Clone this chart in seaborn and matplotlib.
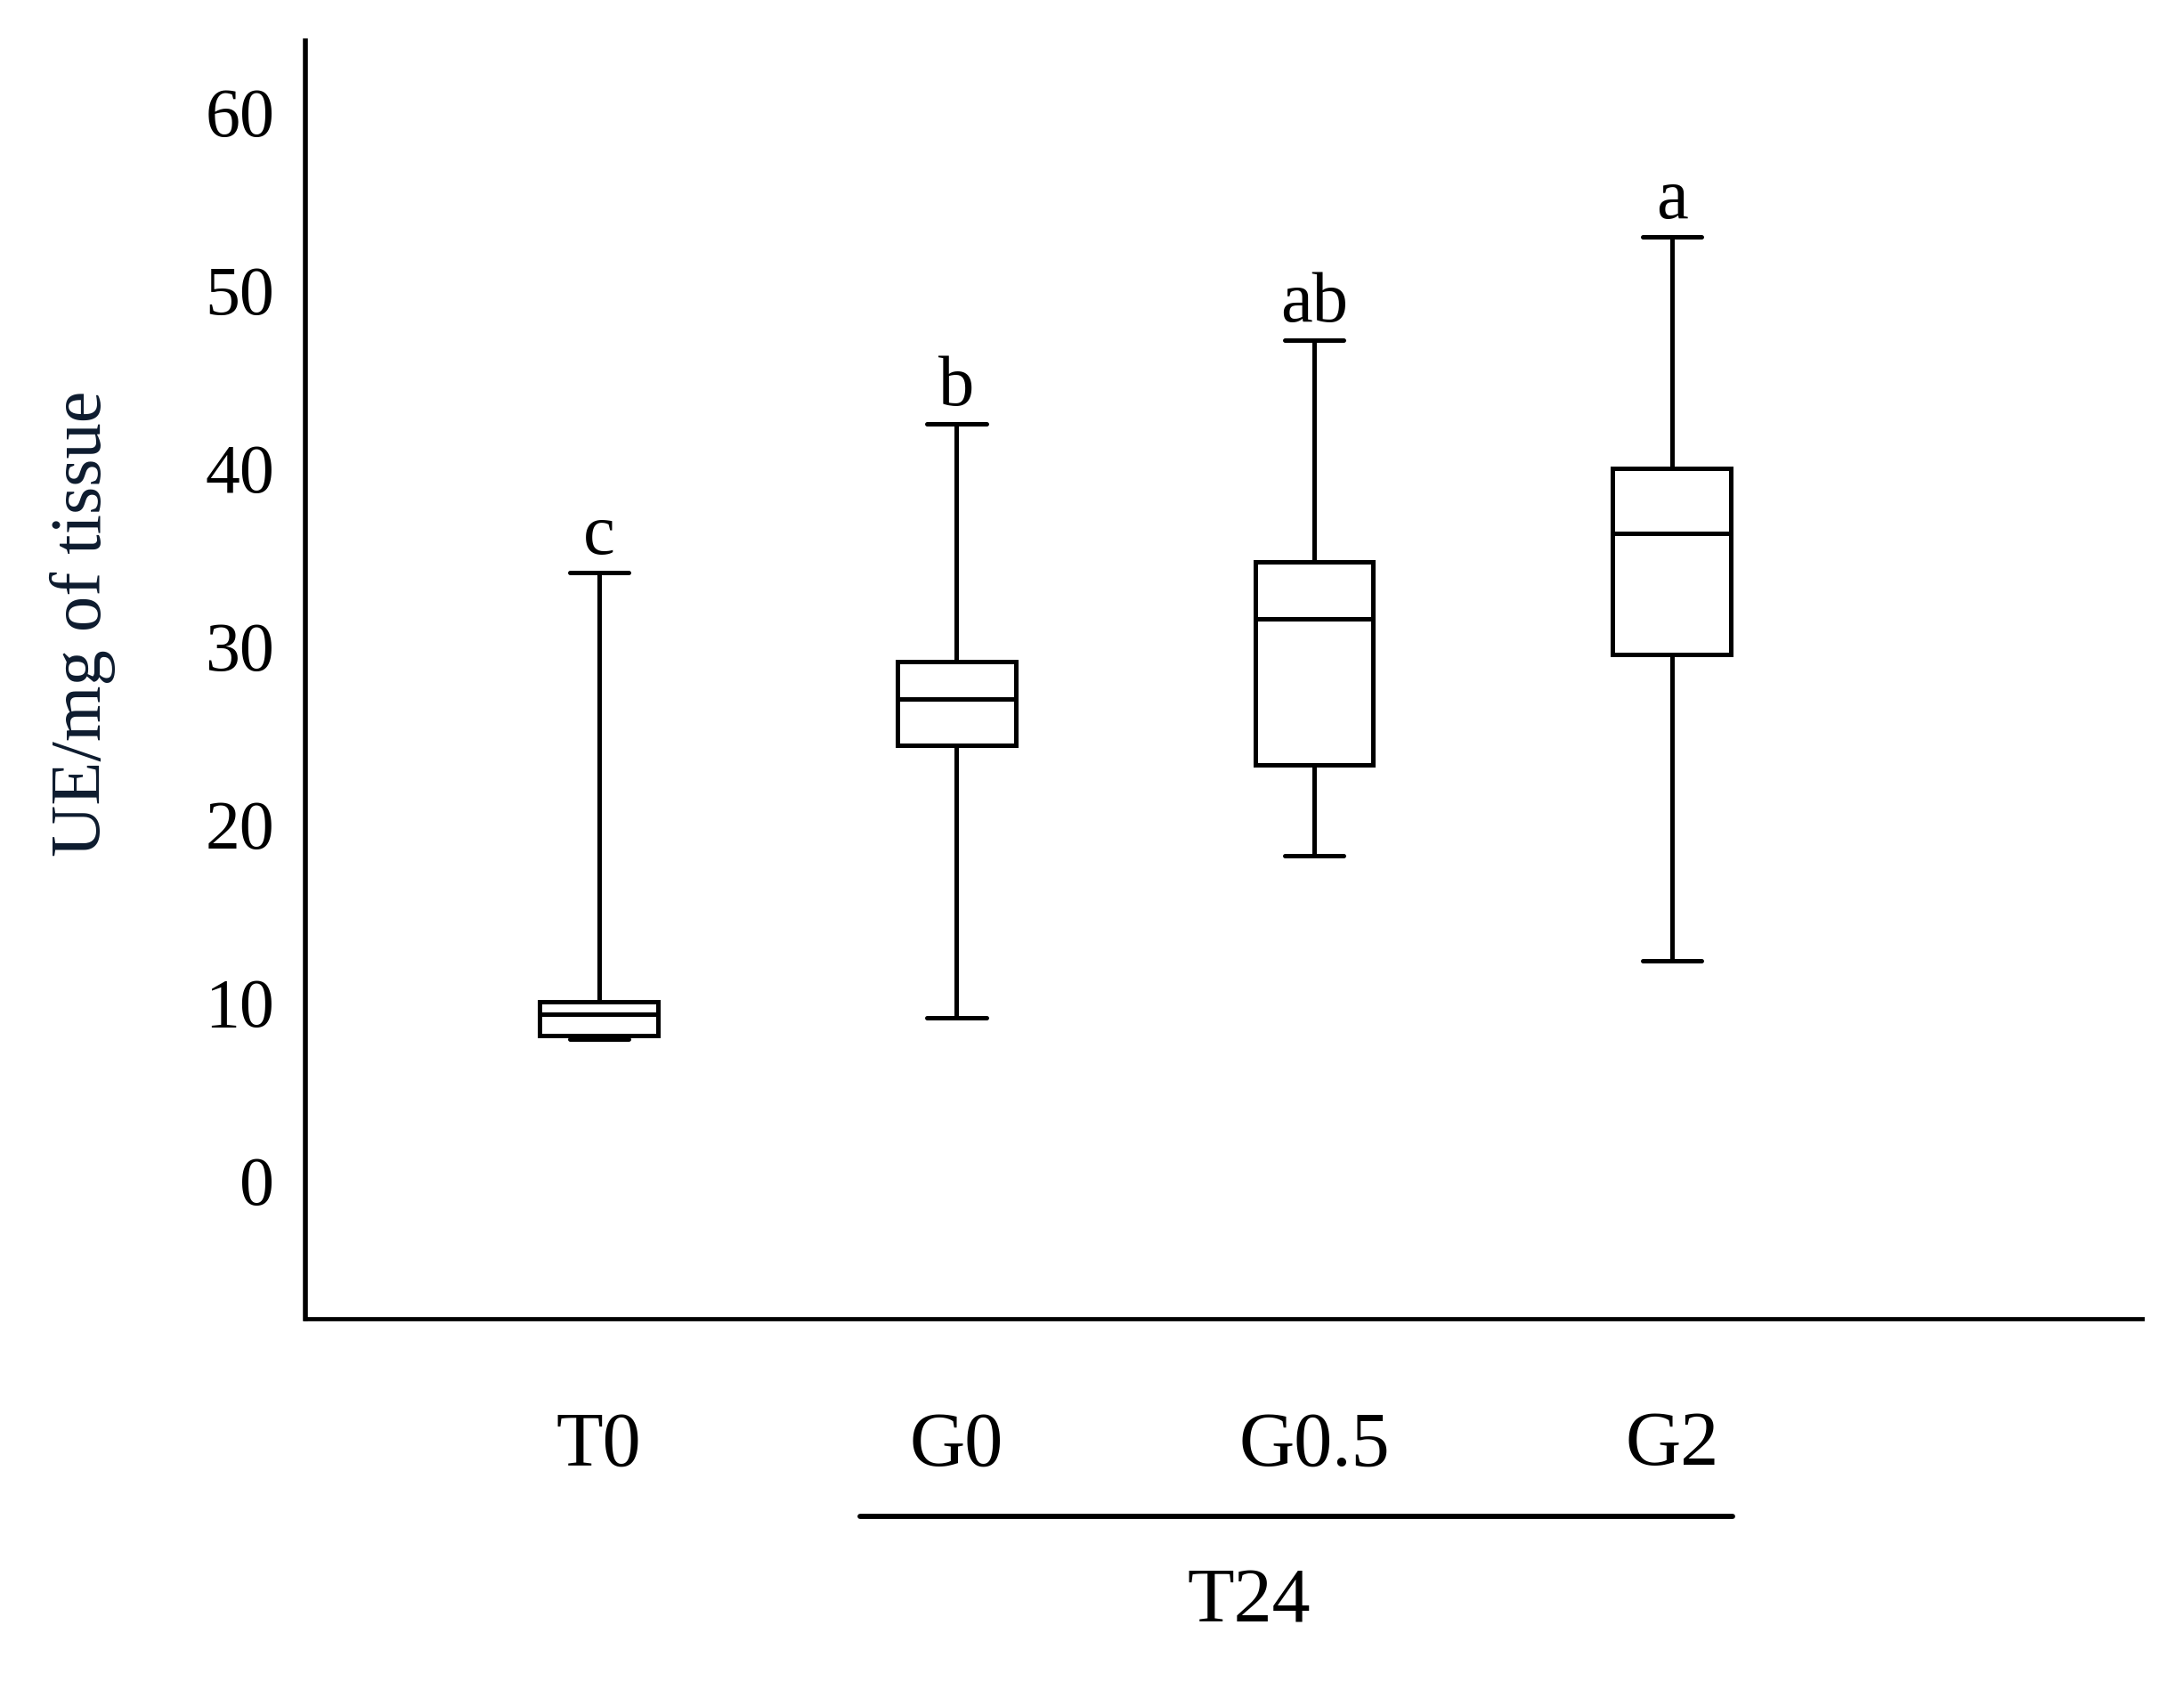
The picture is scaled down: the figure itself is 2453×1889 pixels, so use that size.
import matplotlib
matplotlib.use("Agg")
import matplotlib.pyplot as plt
import matplotlib.transforms as mtransforms
import seaborn as sns
import pandas as pd

# Dados (UE/mg of tissue)
grupos = ["T0", "G0", "G0.5", "G2"]
bigode_inf = [7.9, 9.1, 18.2, 12.3]
q1 = [8.1, 24.4, 23.3, 29.5]
mediana = [9.3, 27.0, 31.5, 36.3]
q3 = [10.0, 29.1, 34.7, 39.9]
bigode_sup = [34.1, 42.4, 47.1, 52.9]
letras = ["c", "b", "ab", "a"]
yticks = [0, 10, 20, 30, 40, 50, 60]

# Tabela longa: 5 valores por grupo reproduzem os quartis e os bigodes
linhas = []
for i, g in enumerate(grupos):
    for v in [bigode_inf[i], q1[i], mediana[i], q3[i], bigode_sup[i]]:
        linhas.append({"grupo": g, "valor": v})
df = pd.DataFrame(linhas)

sns.set_style("white")
plt.rcParams["font.family"] = ["Liberation Serif", "DejaVu Serif"]
plt.rcParams["text.color"] = "black"

fig = plt.figure(figsize=(24.53, 18.9), dpi=100)
ax = fig.add_axes([0.1398, 0.2159, 0.8412, 0.7591])

sns.boxplot(data=df, x="grupo", y="valor", order=grupos, whis=(0, 100),
            width=0.33, color="white", linecolor="black", linewidth=3.6,
            showfliers=False, ax=ax)

# Letras de significância acima de cada bigode
for i, letra in enumerate(letras):
    ax.text(i, bigode_sup[i] + 1.1, letra, ha="center", va="baseline",
            fontsize=58, color="black")

ax.set_xlim(-0.821, 4.316)
ax.set_ylim(-7.8, 63.9)
ax.set_yticks(yticks)
ax.set_yticklabels([str(t) for t in yticks], fontsize=56)
ax.set_xticks(range(len(grupos)))
ax.set_xticklabels(grupos, fontsize=62)
ax.tick_params(axis="x", length=0, pad=74, labelcolor="black")
ax.tick_params(axis="y", length=0, pad=25, labelcolor="black")
ax.set_xlabel("")
ax.set_ylabel("UE/mg of tissue", fontsize=58, color="#0d1b2e")
ax.yaxis.set_label_coords(-0.103, 0.545)

for lado in ["top", "right"]:
    ax.spines[lado].set_visible(False)
ax.spines["left"].set_linewidth(4.0)
ax.spines["bottom"].set_linewidth(3.4)
ax.spines["left"].set_color("black")
ax.spines["bottom"].set_color("black")

# Barra do T24 sob G0, G0.5 e G2
trans = mtransforms.blended_transform_factory(ax.transData, ax.transAxes)
ax.plot([1 - 0.27, 3 + 0.17], [-0.1547, -0.1547], color="black",
        linewidth=4.2, transform=trans, clip_on=False)
ax.text(1.818, -0.222, "T24", ha="center", va="center", fontsize=62,
        color="black", transform=trans)

plt.savefig("out.png", dpi=100)
plt.close()
